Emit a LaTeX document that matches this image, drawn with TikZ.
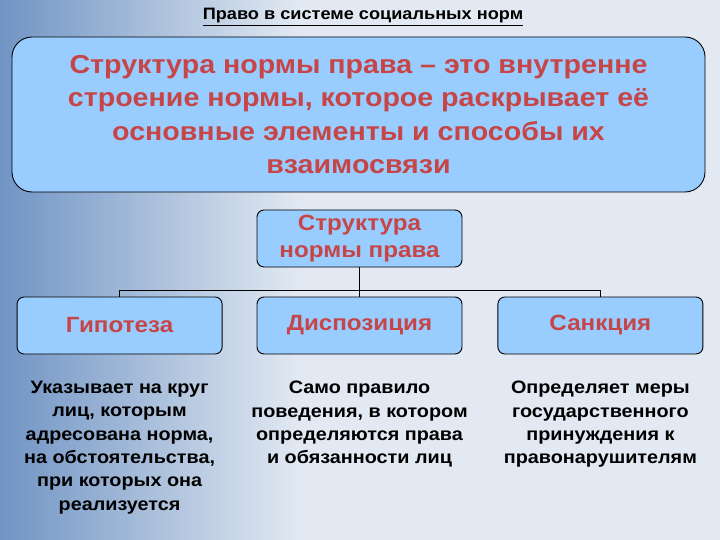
\documentclass[tikz,border=0pt]{standalone}
\usepackage{fontspec}
\setmainfont[FakeStretch=1.1]{Liberation Sans}
\usetikzlibrary{positioning, calc}

\definecolor{boxblue}{RGB}{153,204,255}
\definecolor{textred}{RGB}{198,70,72}
\definecolor{bgdark}{RGB}{112,148,196}
\definecolor{bglight}{RGB}{226,233,242}

\begin{document}
\begin{tikzpicture}[x=1pt,y=-1pt,font=\bfseries,line width=0.9pt]

	\tikzset{box st/.style={draw=black, rounded corners=7pt,
			fill=boxblue, text=textred, align=center,
			minimum width=205pt, minimum height=57pt, inner sep=2pt,
			font=\fontsize{22}{27}\selectfont\bfseries},
		note st/.style={align=center, text=black, anchor=north,
			font=\fontsize{18}{23.3}\selectfont\bfseries}}

	% background
	\fill[bglight] (0,0) rectangle (720,540);
	\shade[left color=bgdark, right color=bglight] (0,0) rectangle (300,540);
	\useasboundingbox (0,0) rectangle (720,540);

	\node[font=\fontsize{16.5}{19}\selectfont\bfseries] (title) at (363,17)
		{\underline{Право в системе социальных норм}};

	\node[box st, rounded corners=20pt, minimum width=693pt, minimum height=155pt,
		font=\fontsize{26}{33.5}\selectfont\bfseries] (def) at (358.5,114.5)
		{Структура нормы права – это внутренне\\строение нормы, которое раскрывает её\\основные элементы и способы их\\взаимосвязи};

	\node[box st] (str) at (359.5,238.5) {Структура\\нормы права};
	\node[box st] (disp) at (359.5,325.5) {Диспозиция};
	\node[box st, left=34pt of disp] (hyp) {Гипотеза};
	\node[box st, right=35pt of disp] (sanc) {Санкция};

	\node[note st, below=23pt of hyp] (hyptext) {Указывает на круг\\лиц, которым\\адресована норма,\\на обстоятельства,\\при которых она\\реализуется};
	\node[note st, below=23pt of disp] (disptext) {Само правило\\поведения, в котором\\определяются права\\и обязанности лиц};
	\node[note st, below=23pt of sanc] (sanctext) {Определяет меры\\государственного\\принуждения к\\правонарушителям};

	% connectors
	\coordinate (bus) at ($(str.south)+(0,23)$);
	\draw (str.south) -- (bus);
	\draw (hyp.north) -- (hyp.north |- bus) -- (sanc.north |- bus) -- (sanc.north);
	\draw (disp.north) -- (bus);

\end{tikzpicture}
\end{document}
